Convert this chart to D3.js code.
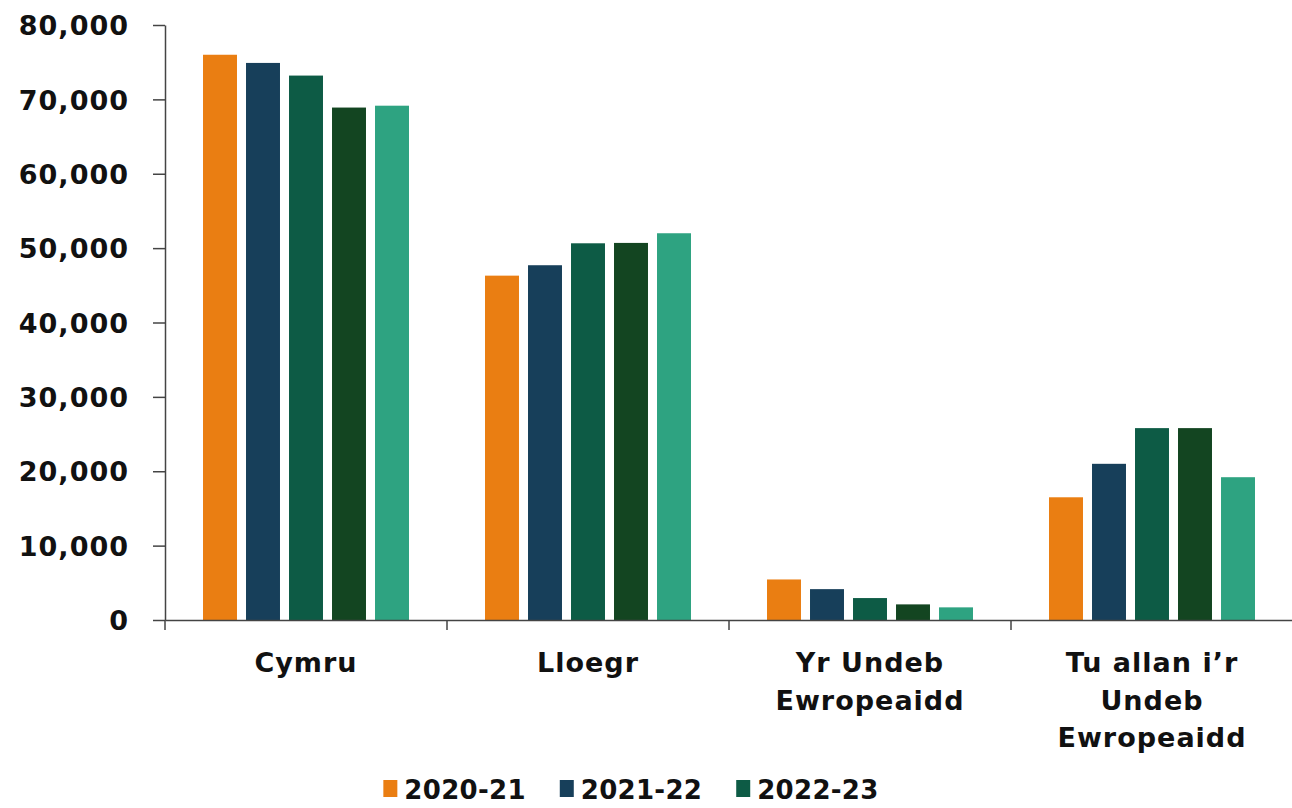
<!DOCTYPE html>
<html><head><meta charset="utf-8">
<script src="https://cdn.jsdelivr.net/npm/d3@7/dist/d3.min.js"></script>
<style>html,body{margin:0;padding:0;background:#fff;overflow:hidden}</style>
</head><body><svg id="c" width="1292" height="808"></svg>
<script>
const categories = [["Cymru"], ["Lloegr"], ["Yr Undeb", "Ewropeaidd"], ["Tu allan i\u2019r", "Undeb", "Ewropeaidd"]];
const seriesNames = ["2020-21", "2021-22", "2022-23", "2023-24", "2024-25"];
const s2020 = [76000, 46300, 5450, 16500];
const s2021 = [74900, 47700, 4150, 21000];
const s2022 = [73200, 50650, 2950, 25800];
const s2023 = [68900, 50700, 2100, 25800];
const s2024 = [69150, 52000, 1700, 19200];
const seriesValues = [s2020, s2021, s2022, s2023, s2024];
const colors = ["#EA7E12", "#173F5A", "#0D5B45", "#134521", "#2EA381"];
const yTicks = [0, 10000, 20000, 30000, 40000, 50000, 60000, 70000, 80000];
// the legend row visible in the reference shows the first three seasons
const legendShown = ["2020-21", "2021-22", "2022-23"];

(function () {
const svg = d3.select("#c");
const font = "'DejaVu Sans', sans-serif";
const mLeft = 165, mRight = 1293, mTop = 25, mBottom = 620;
const catKeys = categories.map((c, i) => i);
const x0 = d3.scaleBand().domain(catKeys).range([mLeft, mRight]).paddingInner(0).paddingOuter(0);
const x1 = d3.scaleBand().domain(seriesNames.map((s, i) => i)).range([0, x0.bandwidth()]).paddingInner(0.21).paddingOuter(0.884);
const y = d3.scaleLinear().domain([0, 80000]).range([mBottom, mTop]);

// bars
seriesValues.forEach((vals, si) => {
  svg.append("g").selectAll("rect").data(vals).join("rect")
    .attr("x", (d, ci) => x0(ci) + x1(si))
    .attr("y", d => y(d))
    .attr("width", x1.bandwidth())
    .attr("height", d => y(0) - y(d))
    .attr("fill", colors[si]);
});

// y axis
const yAxis = svg.append("g").attr("transform", `translate(${mLeft},0)`)
  .call(d3.axisLeft(y).tickValues(yTicks).tickSize(12).tickPadding(24).tickSizeOuter(0)
    .tickFormat(d3.format(",")));
yAxis.select(".domain").attr("stroke", "#444").attr("stroke-width", 1.5);
yAxis.selectAll(".tick line").attr("stroke", "#444").attr("stroke-width", 1.5);
yAxis.selectAll(".tick text").attr("font-family", font).attr("font-weight", "bold")
  .attr("font-size", 27).attr("letter-spacing", 1).attr("fill", "#111").attr("dy", "0.36em");

// x axis
const xAxis = svg.append("g").attr("transform", `translate(0,${mBottom})`)
  .call(d3.axisBottom(x0).tickSize(0).tickSizeOuter(0).tickFormat(""));
xAxis.select(".domain").attr("stroke", "#444").attr("stroke-width", 1.5);
const bounds = catKeys.map(c => x0(c)).concat([mRight]);
svg.append("g").selectAll("line").data(bounds).join("line")
  .attr("x1", d => d).attr("x2", d => d).attr("y1", mBottom).attr("y2", mBottom + 10)
  .attr("stroke", "#444").attr("stroke-width", 1.5);

// category labels
categories.forEach((lines, ci) => {
  const t = svg.append("text").attr("text-anchor", "middle")
    .attr("font-family", font).attr("font-weight", "bold").attr("font-size", 27)
    .attr("letter-spacing", 1).attr("fill", "#111");
  lines.forEach((ln, li) => {
    t.append("tspan").attr("x", x0(ci) + x0.bandwidth() / 2).attr("y", 672 + li * 37.5).text(ln);
  });
});

// legend
const row = svg.append("g");
let cx = 0;
const gap = 34;
legendShown.forEach(name => {
  const i = seriesNames.indexOf(name);
  const g = row.append("g").attr("transform", `translate(${cx},0)`);
  g.append("rect").attr("x", 0).attr("y", -19).attr("width", 14).attr("height", 17).attr("fill", colors[i]);
  const tx = g.append("text").attr("x", 21).attr("y", 0).attr("font-family", font)
    .attr("font-weight", "bold").attr("font-size", 26).attr("letter-spacing", 0.3).attr("fill", "#111").text(name);
  cx += 21 + tx.node().getComputedTextLength() + gap;
});
const w = cx - gap;
row.attr("transform", `translate(${631 - w / 2},799)`);
})();
</script></body></html>
